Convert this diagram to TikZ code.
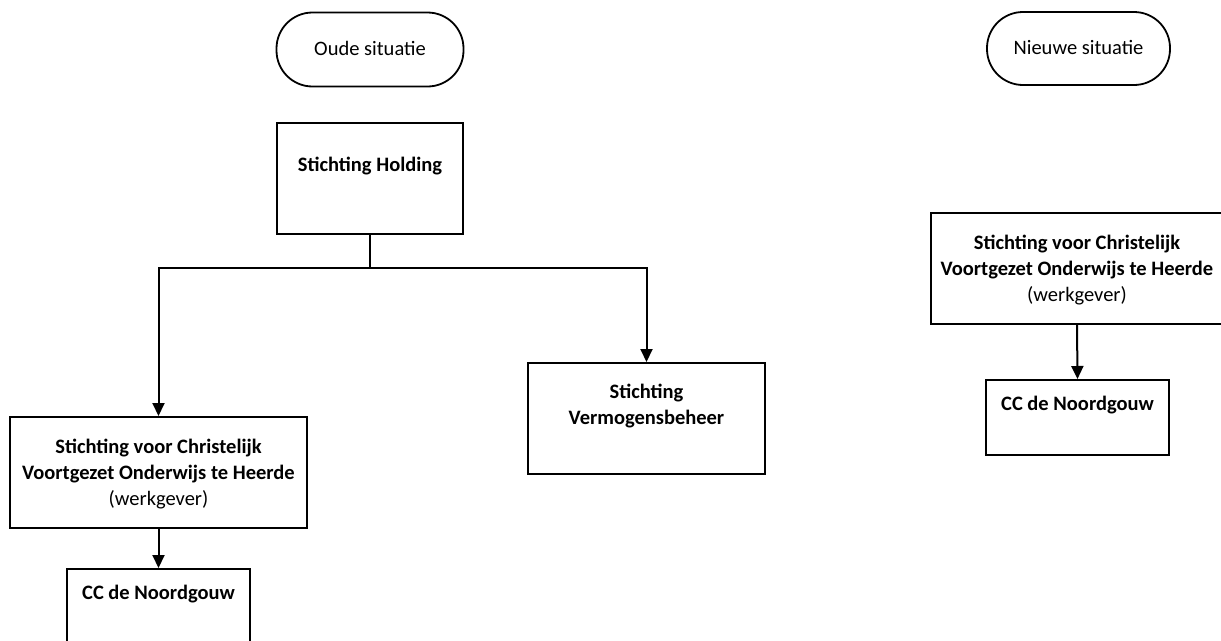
\documentclass[tikz,border=0pt]{standalone}
\usepackage{fontspec}
\setmainfont{Carlito}
\usetikzlibrary{arrows.meta}
\begin{document}
\begin{tikzpicture}[x=1pt,y=-1pt,
  boxstyle/.style={draw=black,line width=2pt,rectangle,inner sep=0pt},
  pill/.style={draw=black,line width=1.8pt,rectangle,rounded corners=36pt,inner sep=0pt},
  txt/.style={align=center,inner sep=0pt,font=\fontsize{20.5}{26}\selectfont},
  conn/.style={line width=2pt,draw=black},
  arr/.style={conn,-{Triangle[width=12pt,length=13pt]}}]
\useasboundingbox (0,0) rectangle (1221,640);
\clip (0,0) rectangle (1221,640);
\fill[white] (0,0) rectangle (1221,640);
% old situation
\node[pill,minimum width=187pt,minimum height=74pt] (oude) at (370,49.5) {};
\node[txt] (oudet) at (370,48) {Oude situatie};
\node[boxstyle,minimum width=186pt,minimum height=111pt] (hold) at (370,178.5) {};
\node[txt] (holdt) at (370,166) {\textbf{Stichting Holding}};
\node[boxstyle,minimum width=297pt,minimum height=111pt] (left) at (158.5,472.5) {};
\node[txt] (leftt) at (158.5,474) {\textbf{Stichting voor Christelijk}\\\textbf{Voortgezet Onderwijs te Heerde}\\(werkgever)};
\node[boxstyle,minimum width=237pt,minimum height=111pt] (verm) at (646.5,418.5) {};
\node[txt] (vermt) at (646.5,406) {\textbf{Stichting}\\\textbf{Vermogensbeheer}};
\node[boxstyle,minimum width=183pt,minimum height=111pt] (lcc) at (158.5,624.5) {};
\node[txt] (lcct) at (158.5,594) {\textbf{CC de Noordgouw}};
\coordinate (j) at (370,268);
\draw[conn] (hold.south) -- (j);
\draw[arr] (j) -| (left.north);
\draw[arr] (j) -| (verm.north);
\draw[arr] (left.south) -- (lcc.north);
% new situation
\node[pill,minimum width=183pt,minimum height=73pt] (nieuw) at (1078.5,48.5) {};
\node[txt] (nieuwt) at (1078.5,47) {Nieuwe situatie};
\node[boxstyle,minimum width=292pt,minimum height=111pt] (rbox) at (1077,268.5) {};
\node[txt] (rboxt) at (1077,270) {\textbf{Stichting voor Christelijk}\\\textbf{Voortgezet Onderwijs te Heerde}\\(werkgever)};
\node[boxstyle,minimum width=183pt,minimum height=75pt] (rcc) at (1077.5,417.5) {};
\node[txt] (rcct) at (1077.5,405) {\textbf{CC de Noordgouw}};
\draw[arr] (rbox.south) -- (rcc.north);
\end{tikzpicture}
\end{document}
